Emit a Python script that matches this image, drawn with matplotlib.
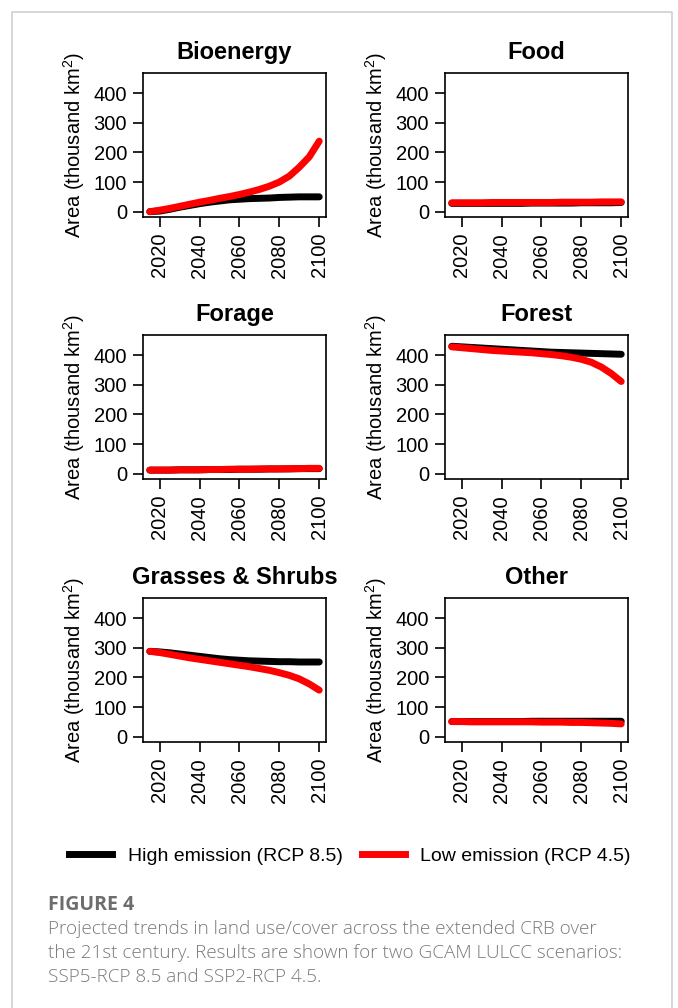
import numpy as np
import matplotlib
matplotlib.use("Agg")
import matplotlib.pyplot as plt
from matplotlib.lines import Line2D

plt.rcParams['font.family'] = ['Liberation Sans', 'DejaVu Sans']
plt.rcParams['mathtext.fontset'] = 'custom'
plt.rcParams['mathtext.rm'] = 'Liberation Sans'

# GCAM time steps
years = list(range(2015, 2101, 5))

titles = ["Bioenergy", "Food", "Forage", "Forest", "Grasses & Shrubs", "Other"]

# thousand km2
bio_high = [0, 2, 8, 15, 21, 27, 32, 36, 40, 42, 44, 45, 46, 48, 49, 50, 50, 50]
bio_low = [0, 5, 11, 18, 25, 32, 38, 45, 51, 58, 66, 75, 86, 100, 120, 150, 185, 238]
food_high = [28, 28, 28, 28, 28, 28, 28, 28, 29, 29, 29, 29, 29, 30, 30, 30, 30, 31]
food_low = [30, 30, 30, 30, 31, 31, 31, 31, 31, 31, 31, 32, 32, 32, 32, 33, 33, 33]
forage_high = [12, 12, 12, 13, 13, 13, 14, 14, 14, 15, 15, 15, 16, 16, 16, 17, 17, 17]
forage_low = [12, 12, 12, 13, 13, 13, 14, 14, 15, 15, 15, 16, 16, 16, 17, 17, 18, 18]
forest_high = [430, 428, 426, 424, 422, 420, 418, 416, 414, 412, 410, 409, 408, 407, 406, 405, 404, 403]
forest_low = [428, 425, 422, 419, 416, 414, 412, 410, 408, 405, 402, 398, 393, 386, 376, 360, 338, 311]
grass_high = [288, 286, 283, 279, 275, 271, 267, 263, 260, 258, 256, 255, 254, 253, 253, 252, 252, 252]
grass_low = [288, 284, 278, 272, 266, 261, 256, 251, 246, 241, 236, 230, 224, 216, 207, 195, 178, 157]
other_high = [51, 51, 51, 51, 51, 51, 51, 51, 52, 52, 52, 52, 52, 52, 52, 52, 52, 52]
other_low = [51, 51, 50, 50, 50, 50, 50, 50, 50, 49, 49, 49, 48, 48, 47, 46, 45, 43]

high = [bio_high, food_high, forage_high, forest_high, grass_high, other_high]
low = [bio_low, food_low, forage_low, forest_low, grass_low, other_low]

W, H = 678, 1008
fig = plt.figure(figsize=(W / 100, H / 100), dpi=100)

# light grey frame around the figure panel
fig.add_artist(Line2D([12 / W, 12 / W, 672 / W, 672 / W], [0, 1 - 12 / H, 1 - 12 / H, 0],
                      color='#d0d0d0', lw=1.2))

lefts = [143, 445]
tops = [73, 335, 598]
bw, bh = 183, 144

for i, t in enumerate(titles):
    r, c = divmod(i, 2)
    ax = fig.add_axes([lefts[c] / W, 1 - (tops[r] + bh) / H, bw / W, bh / H])
    ax.plot(years, high[i], color='black', lw=5, solid_capstyle='round')
    ax.plot(years, low[i], color='#ff0000', lw=5, solid_capstyle='round')
    ax.set_xlim(2011.6, 2103.4)
    ax.set_ylim(-18, 468)
    ax.set_yticks([0, 100, 200, 300, 400])
    ax.set_xticks([2020, 2040, 2060, 2080, 2100])
    ax.tick_params(axis='both', labelsize=14.5, length=7.5, width=1.2, pad=4)
    ax.tick_params(axis='x', labelrotation=90)
    for s in ax.spines.values():
        s.set_linewidth(1.2)
    ax.set_title(t, fontsize=17, fontweight='bold', pad=10)
    ax.set_ylabel('Area (thousand km$^2$)', fontsize=14.5, labelpad=5)

handles = [Line2D([], [], color='black', lw=5),
           Line2D([], [], color='#ff0000', lw=5)]
fig.legend(handles, ['High emission (RCP 8.5)', 'Low emission (RCP 4.5)'],
           loc='center', bbox_to_anchor=(350 / W, 1 - 856 / H), ncol=2,
           frameon=False, fontsize=14, handlelength=2.2, columnspacing=1.0,
           handletextpad=0.8)

fig.text(48 / W, 1 - 905 / H, 'FIGURE 4', fontsize=14, fontweight='bold',
         color='#6d6d6d', va='center', family=['Open Sans', 'DejaVu Sans'])
caption = ["Projected trends in land use/cover across the extended CRB over",
           "the 21st century. Results are shown for two GCAM LULCC scenarios:",
           "SSP5-RCP 8.5 and SSP2-RCP 4.5."]
for k, line in enumerate(caption):
    fig.text(48 / W, 1 - (929 + 24 * k) / H, line, fontsize=13.6, color='#7a7a7a',
             va='center', family=['Open Sans', 'DejaVu Sans'], fontweight='light')

fig.savefig('out.png', dpi=100)
